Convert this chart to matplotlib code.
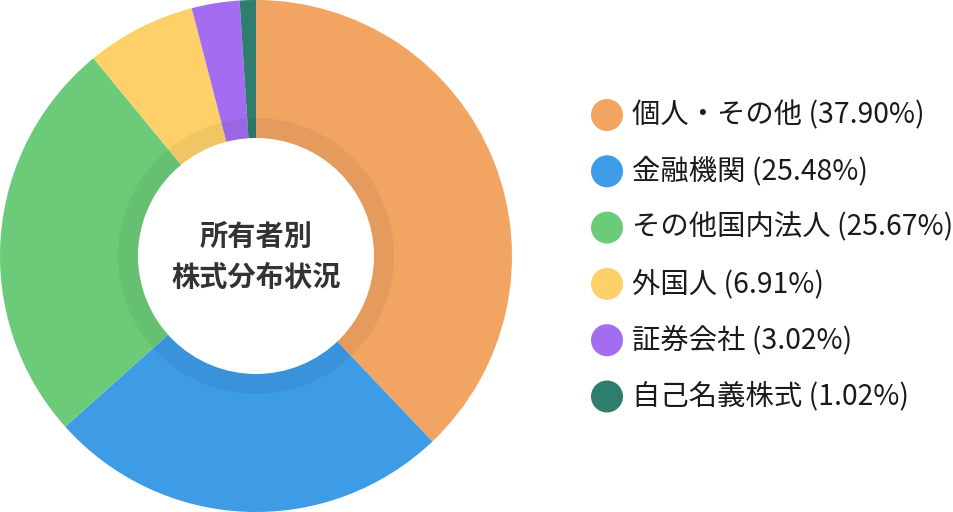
import matplotlib
matplotlib.use("Agg")
import matplotlib.pyplot as plt
from matplotlib.patches import Circle

plt.rcParams['font.family'] = ['Noto Sans CJK JP', 'DejaVu Sans']

categories = ["個人・その他", "金融機関", "その他国内法人", "外国人", "証券会社", "自己名義株式"]
values = [37.90, 25.48, 25.67, 6.91, 3.02, 1.02]
colors = ["#F2A462", "#3E9BE6", "#6CCB78", "#FDD06A", "#A46CF0", "#2E7D6E"]
center_title = ["所有者別", "株式分布状況"]

W, H = 954, 512
fig = plt.figure(figsize=(W / 100, H / 100), dpi=100)
ax = fig.add_axes([0, 0, 1, 1])

cx, cy, R = 256, 256, 256
ax.pie(values, colors=colors, startangle=90, counterclock=False,
       center=(cx, cy), radius=R, wedgeprops=dict(linewidth=0), frame=True)
ax.set_xlim(0, W)
ax.set_ylim(0, H)
ax.set_aspect('equal')
ax.axis('off')

# shadow ring and hole
ax.add_patch(Circle((cx, cy), 138, facecolor='black', alpha=0.05, linewidth=0, zorder=3))
ax.add_patch(Circle((cx, cy), 118, facecolor='white', linewidth=0, zorder=4))

ax.text(cx, H - 237, center_title[0], ha='center', va='center', fontsize=20.3,
        fontweight='bold', color='#333333', zorder=5)
ax.text(cx, H - 278, center_title[1], ha='center', va='center', fontsize=20.3,
        fontweight='bold', color='#333333', zorder=5)

# legend
y0, dy = 115, 56.3
for i, (cat, v, c) in enumerate(zip(categories, values, colors)):
    y = H - (y0 + i * dy)
    ax.add_patch(Circle((607, y), 16, facecolor=c, linewidth=0, zorder=5))
    ax.text(632, y, f"{cat} ({v:.2f}%)", ha='left', va='center', fontsize=20.4,
            color='#1a1a1a', zorder=5)

fig.savefig("out.png", dpi=100)
